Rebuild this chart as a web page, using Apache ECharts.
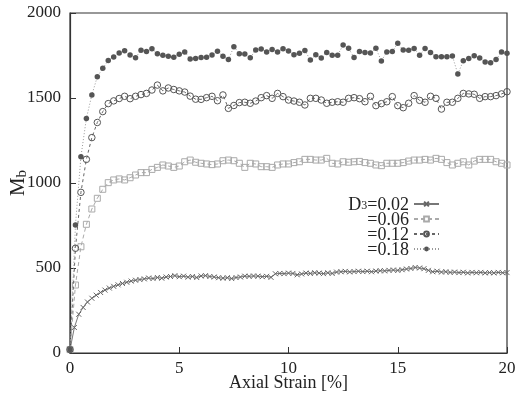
<!DOCTYPE html>
<html><head><meta charset="utf-8">
<script src="https://cdn.jsdelivr.net/npm/echarts@6/dist/echarts.min.js"></script>
<style>html,body{margin:0;padding:0;background:#fff}#c{width:527px;height:396px}</style>
</head><body><div id="c"></div>
<script>
// Axial strain samples [%]
const strainA = [0,0.25,0.5,0.75,1,1.25,1.5,1.75,2,2.25,2.5,2.75,3,3.25,3.5,3.75,4,4.25,4.5,4.75,5,5.25,5.5,5.75,6,6.25,6.5,6.75,7,7.25,7.5,7.75,8,8.25,8.5,8.75,9,9.25,9.5,9.75,10,10.25,10.5,10.75,11,11.25,11.5,11.75,12,12.25,12.5,12.75,13,13.25,13.5,13.75,14,14.25,14.5,14.75,15,15.25,15.5,15.75,16,16.25,16.5,16.75,17,17.25,17.5,17.75,18,18.25,18.5,18.75,19,19.25,19.5,19.75,20];
const strainB = [0,0.2,0.4,0.6,0.8,1,1.2,1.4,1.6,1.8,2,2.2,2.4,2.6,2.8,3,3.2,3.4,3.6,3.8,4,4.2,4.4,4.6,4.8,5,5.2,5.4,5.6,5.8,6,6.2,6.4,6.6,6.8,7,7.2,7.4,7.6,7.8,8,8.2,8.4,8.6,8.8,9,9.2,9.4,9.6,9.8,10,10.2,10.4,10.6,10.8,11,11.2,11.4,11.6,11.8,12,12.2,12.4,12.6,12.8,13,13.2,13.4,13.6,13.8,14,14.2,14.4,14.6,14.8,15,15.2,15.4,15.6,15.8,16,16.2,16.4,16.6,16.8,17,17.2,17.4,17.6,17.8,18,18.2,18.4,18.6,18.8,19,19.2,19.4,19.6,19.8,20];

// M_b values
const mb002 = [20,150,228,268,300,322,340,356,370,382,
392,401,409,416,423,428,432,436,441,438,
444,440,447,450,455,449,452,446,450,444,
453,455,450,447,443,440,443,438,444,447,
452,451,453,452,449,451,445,466,468,467,
470,468,460,465,470,468,472,470,467,472,
468,476,478,480,477,479,481,479,481,478,
482,484,483,486,488,486,490,494,497,503,
500,496,486,478,481,476,478,474,476,473,
475,471,474,472,474,471,473,471,474,472,
473];
const mb006 = [20,400,625,757,847,910,963,1002,1018,1024,
1018,1031,1047,1061,1061,1080,1092,1106,1100,1092,
1100,1125,1135,1122,1116,1112,1108,1112,1131,1135,
1131,1116,1092,1116,1112,1096,1096,1092,1106,1112,
1112,1120,1125,1139,1139,1135,1135,1145,1116,1112,
1125,1122,1125,1127,1120,1116,1106,1102,1116,1116,
1116,1120,1129,1135,1135,1139,1135,1145,1139,1120,
1106,1116,1125,1106,1129,1139,1139,1139,1125,1116,
1106];
const mb012 = [20,616,945,1139,1267,1356,1420,1467,1483,1497,
1510,1496,1510,1520,1527,1547,1576,1542,1559,1550,
1542,1535,1511,1493,1492,1502,1510,1484,1518,1439,
1456,1473,1475,1469,1482,1502,1514,1498,1527,1508,
1488,1482,1475,1459,1498,1498,1488,1469,1475,1478,
1475,1498,1502,1496,1478,1510,1455,1467,1478,1508,
1455,1443,1469,1514,1486,1475,1510,1498,1435,1475,
1475,1498,1527,1524,1522,1498,1508,1508,1514,1524,
1537];
const mb018 = [20,753,1155,1380,1518,1625,1675,1720,1741,1765,
1778,1753,1737,1781,1774,1790,1761,1751,1745,1740,
1758,1771,1730,1733,1738,1740,1753,1775,1745,1726,
1802,1761,1759,1737,1782,1788,1771,1786,1771,1790,
1777,1754,1763,1779,1724,1754,1736,1768,1752,1752,
1812,1792,1738,1774,1767,1765,1792,1718,1771,1774,
1822,1782,1781,1791,1752,1791,1767,1743,1743,1742,
1747,1641,1719,1732,1748,1735,1712,1707,1727,1770,
1763];

const seriesNames = ['D3=0.02','=0.06','=0.12','=0.18'];
const xTicks = [0,5,10,15,20];
const yTicks = [0,500,1000,1500,2000];

const serif = '"Liberation Serif", "DejaVu Serif", serif';
function pairs(xs, ys){ return xs.map((x,i)=>[x, ys[i]]); }

const legendRich = {
  a:{fontFamily:serif, fontSize:18, color:'#222', lineHeight:16, verticalAlign:'top', padding:[0,0,4,0]},
  s:{fontFamily:serif, fontSize:12, color:'#222', lineHeight:10, verticalAlign:'bottom'}
};
const legendRichD = {
  a:{fontFamily:serif, fontSize:18, color:'#222', lineHeight:16, verticalAlign:'top', padding:[0,0,8,0]},
  s:{fontFamily:serif, fontSize:12, color:'#222', lineHeight:10, verticalAlign:'bottom'}
};
const legendTops = [196, 211, 226, 241];
const legends = seriesNames.map(function(n, i){
  return {
    orient:'vertical', right:87, top:legendTops[i], align:'right', padding:0,
    itemWidth:25, itemHeight:6, data:[n],
    formatter: function(name){
      if (name.indexOf('D3') === 0) return '{a|D}{s|3}{a|' + name.slice(2) + '}';
      return '{a|' + name + '}';
    },
    textStyle:{fontFamily:serif, fontSize:18, color:'#222', rich: i === 0 ? legendRichD : legendRich}
  };
});

const chart = echarts.init(document.getElementById('c'));
const option = {
  animation: false,
  backgroundColor: '#fff',
  grid: {left:70, right:20, top:13, bottom:43, outerBoundsMode:'none', containLabel:false,
         show:true, borderColor:'#333', borderWidth:1.2, backgroundColor:'transparent'},
  xAxis: {
    type:'value', min:xTicks[0], max:xTicks[xTicks.length-1], interval:5,
    axisLine:{lineStyle:{color:'#333', width:1.2}},
    axisTick:{inside:true, length:6, lineStyle:{color:'#333', width:1}},
    splitLine:{show:false},
    axisLabel:{color:'#222', fontFamily:serif, fontSize:17, margin:7, formatter:function(v){return String(v);}},
    name:'Axial Strain [%]', nameLocation:'middle', nameGap:21, nameMoveOverlap:false,
    nameTextStyle:{color:'#222', fontFamily:serif, fontSize:18}
  },
  yAxis: {
    type:'value', min:yTicks[0], max:yTicks[yTicks.length-1], interval:500,
    axisLine:{lineStyle:{color:'#333', width:1.2}},
    axisTick:{inside:true, length:6, lineStyle:{color:'#333', width:1}},
    splitLine:{show:false},
    axisLabel:{color:'#222', fontFamily:serif, fontSize:17, margin:9, formatter:function(v){return String(v);}},
    name:'{m|M}{s|b}', nameLocation:'middle', nameGap:40, nameRotate:90, nameMoveOverlap:false,
    nameTextStyle:{rich:{
      m:{fontFamily:serif, fontSize:21, color:'#222', lineHeight:22, padding:[0,0,7,0], verticalAlign:'top'},
      s:{fontFamily:serif, fontSize:15, color:'#222', lineHeight:15, verticalAlign:'bottom'}
    }}
  },
  legend: legends,
  series: [
    {name:seriesNames[0], type:'line', data:pairs(strainB, mb002), showSymbol:true,
     symbol:'path://M0,0L10,10M0,10L10,0', symbolSize:5,
     itemStyle:{color:'none', borderColor:'#666', borderWidth:1},
     lineStyle:{color:'#777', width:1, type:'solid'}, z:2},
    {name:seriesNames[1], type:'line', data:pairs(strainA, mb006), showSymbol:true,
     symbol:'rect', symbolSize:6,
     itemStyle:{color:'transparent', borderColor:'#aaa', borderWidth:1},
     lineStyle:{color:'#aaa', width:1, type:[4,3]}, z:3},
    {name:seriesNames[2], type:'line', data:pairs(strainA, mb012), showSymbol:true,
     symbol:'circle', symbolSize:6.5,
     itemStyle:{color:'transparent', borderColor:'#555', borderWidth:1},
     lineStyle:{color:'#666', width:1, type:[3,3]}, z:4},
    {name:seriesNames[3], type:'line', data:pairs(strainA, mb018), showSymbol:true,
     symbol:'circle', symbolSize:5.5,
     itemStyle:{color:'#555', borderColor:'#555', borderWidth:0},
     lineStyle:{color:'#999', width:1, type:[1,2]}, z:5}
  ]
};
chart.setOption(option);
</script></body></html>
